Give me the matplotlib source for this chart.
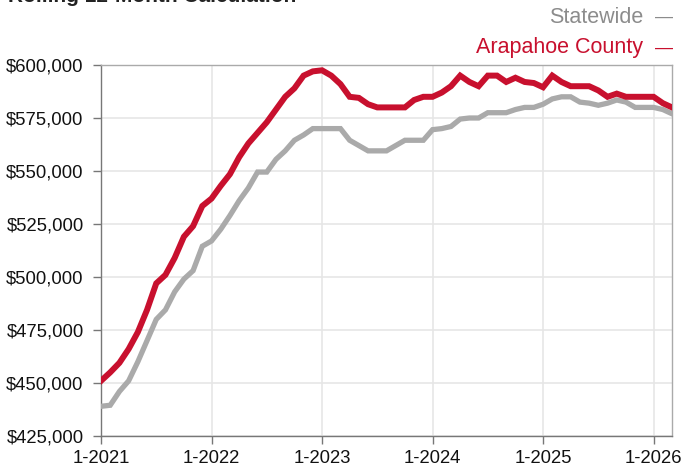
import numpy as np
import matplotlib
matplotlib.use("Agg")
import matplotlib.pyplot as plt

plt.rcParams["font.family"] = ["Liberation Sans", "DejaVu Sans"]

# monthly values, 1-2021 .. 3-2026 (rolling 12-month median sales price)
arapahoe = [
    451000, 455000, 459500, 466000, 474000, 484500, 497000, 501000, 509000, 519000, 524000, 533500,
    537000, 543000, 548500, 556500, 563000, 568000, 573000, 579000, 585000, 589000, 595000, 597000,
    597500, 595000, 591000, 585000, 584500, 581500, 580000, 580000, 580000, 580000, 583500, 585000,
    585000, 587000, 590000, 595000, 592000, 590000, 595000, 595000, 592000, 594000, 592000, 591500,
    589500, 595000, 592000, 590000, 590000, 590000, 588000, 585000, 586500, 585000, 585000, 585000,
    585000, 582000, 580000,
]
statewide = [
    439000, 439500, 446000, 451000, 460000, 470000, 480000, 484500, 493000, 499000, 503000, 514500,
    517000, 522500, 529000, 536000, 542000, 549500, 549500, 555500, 559500, 564500, 567000, 570000,
    570000, 570000, 570000, 564500, 562000, 559500, 559500, 559500, 562000, 564500, 564500, 564500,
    569500, 570000, 571000, 574500, 575000, 575000, 577500, 577500, 577500, 579000, 580000, 580000,
    581500, 584000, 585000, 585000, 582500, 582000, 581000, 582000, 583500, 582500, 580000, 580000,
    580000, 579000, 577000,
]
tick_labels = ["1-2021", "1-2022", "1-2023", "1-2024", "1-2025", "1-2026"]
y_ticks = [425000, 450000, 475000, 500000, 525000, 550000, 575000, 600000]

RED = "#c8102e"
GRAY = "#aaaaaa"

months = np.arange(len(arapahoe))

fig = plt.figure(figsize=(6.81, 4.66), dpi=100)
ax = fig.add_axes([0.1483, 0.0644, 0.8385, 0.7961])

ax.plot(months, statewide, color=GRAY, lw=3.8, solid_joinstyle="miter", zorder=3)
ax.plot(months, arapahoe, color=RED, lw=4.3, solid_joinstyle="miter", zorder=4)

ax.set_xlim(0, len(months) - 1)
ax.set_ylim(425000, 600000)
ax.set_xticks(np.arange(0, 61, 12))
ax.set_xticklabels(tick_labels)
ax.set_yticks(y_ticks)
ax.set_yticklabels([f"${v:,}" for v in y_ticks])

ax.grid(True, color="#e6e6e6", lw=1.2, zorder=0)
ax.set_axisbelow(True)
for side in ["left", "bottom"]:
    ax.spines[side].set_color("#777777")
    ax.spines[side].set_linewidth(1.0)
for side in ["top", "right"]:
    ax.spines[side].set_color("#aaaaaa")
    ax.spines[side].set_linewidth(1.0)
ax.tick_params(axis="both", length=6, width=1.0, color="#777777",
               labelsize=13.3, labelcolor="#111111")
ax.tick_params(axis="y", pad=6.5)
ax.tick_params(axis="x", pad=4)

fig.text(0.012, 0.9955, "Rolling 12-Month Calculation", fontsize=15,
         fontweight="bold", color="#222222", va="baseline", ha="left")

fig.text(0.944, 0.962, "Statewide", fontsize=15.5, color="#8c8c8c",
         ha="right", va="center")
fig.text(0.975, 0.962, "\u2014", fontsize=13, color="#8c8c8c",
         ha="center", va="center")
fig.text(0.944, 0.897, "Arapahoe County", fontsize=15.5, color=RED,
         ha="right", va="center")
fig.text(0.975, 0.897, "\u2014", fontsize=13, color=RED,
         ha="center", va="center")

fig.savefig("out.png", dpi=100)
